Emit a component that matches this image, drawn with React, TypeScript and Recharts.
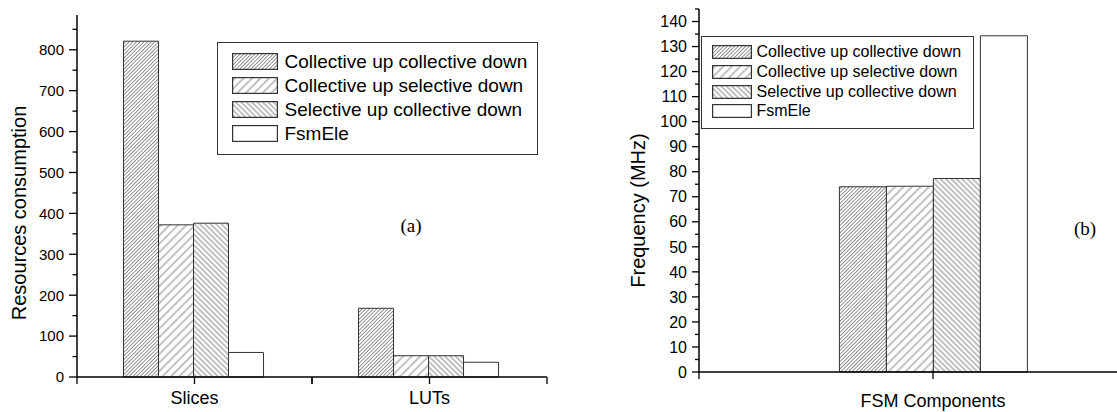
import { Bar, BarChart, Label, Legend, XAxis, YAxis } from "recharts";

const SANS = '"Liberation Sans", Arial, Helvetica, sans-serif';
const SERIF = '"Liberation Serif", "Times New Roman", serif';

// (a) resources
const CATEGORIES_A = ["Slices", "LUTs"];
const CUCD_A = [821, 168];
const CUSD_A = [372, 52];
const SUCD_A = [376, 52];
const FSMELE_A = [60, 36];
const TICKS_A = [0, 50, 100, 150, 200, 250, 300, 350, 400, 450, 500, 550, 600, 650, 700, 750, 800, 850];

// (b) frequency
const CATEGORIES_B = ["FSM Components"];
const CUCD_B = [74];
const CUSD_B = [74.2];
const SUCD_B = [77.3];
const FSMELE_B = [134.3];
const TICKS_B = [
  0, 5, 10, 15, 20, 25, 30, 35, 40, 45, 50, 55, 60, 65, 70, 75, 80, 85, 90, 95, 100, 105, 110, 115, 120, 125,
  130, 135, 140, 145,
];

const SERIES = [
  { key: "cucd", name: "Collective up collective down", fill: "url(#hatchDense)" },
  { key: "cusd", name: "Collective up selective down", fill: "url(#hatchWide)" },
  { key: "sucd", name: "Selective up collective down", fill: "url(#hatchBack)" },
  { key: "fsm", name: "FsmEle", fill: "#ffffff" },
];

const rowsA = CATEGORIES_A.map((name, i) => ({
  name,
  cucd: CUCD_A[i],
  cusd: CUSD_A[i],
  sucd: SUCD_A[i],
  fsm: FSMELE_A[i],
}));

const rowsB = CATEGORIES_B.map((name, i) => ({
  name,
  cucd: CUCD_B[i],
  cusd: CUSD_B[i],
  sucd: SUCD_B[i],
  fsm: FSMELE_B[i],
}));

const AXIS_LINE = { stroke: "#000", strokeWidth: 1.5 };

function Hatches() {
  return (
    <svg width={0} height={0} style={{ position: "absolute" }}>
      <defs>
        <pattern id="hatchDense" patternUnits="userSpaceOnUse" width={2.6} height={2.6} patternTransform="rotate(45)">
          <rect width={2.6} height={2.6} fill="#fff" />
          <line x1={1.3} y1={0} x2={1.3} y2={2.6} stroke="#777" strokeWidth={0.8} />
        </pattern>
        <pattern id="hatchWide" patternUnits="userSpaceOnUse" width={6} height={6} patternTransform="rotate(45)">
          <rect width={6} height={6} fill="#fff" />
          <line x1={3} y1={0} x2={3} y2={6} stroke="#666" strokeWidth={0.8} />
        </pattern>
        <pattern id="hatchBack" patternUnits="userSpaceOnUse" width={3.8} height={3.8} patternTransform="rotate(-45)">
          <rect width={3.8} height={3.8} fill="#fff" />
          <line x1={1.9} y1={0} x2={1.9} y2={3.8} stroke="#666" strokeWidth={0.8} />
        </pattern>
      </defs>
    </svg>
  );
}

function YTick(props: any) {
  const { x, y, payload, reach, step, majorLen, minorLen, fontSize } = props;
  const axisX = x + reach;
  const major = payload.value % step === 0;
  return (
    <g>
      <line x1={axisX - (major ? majorLen : minorLen)} x2={axisX} y1={y} y2={y} stroke="#000" strokeWidth={1.3} />
      {major && (
        <text x={x} y={y} dy="0.355em" textAnchor="end" fontSize={fontSize} fontFamily={SANS} fill="#000">
          {payload.value}
        </text>
      )}
    </g>
  );
}

function XTick(props: any) {
  const { x, y, payload, reach, len, fontSize } = props;
  const axisY = y - reach;
  const half = payload.offset ?? 0;
  const marks = half ? [x - half, x, x + half] : [x];
  return (
    <g>
      {marks.map((mx: number, i: number) => (
        <line key={i} x1={mx} x2={mx} y1={axisY} y2={axisY + len} stroke="#000" strokeWidth={1.3} />
      ))}
      <text x={x} y={y} dy="0.71em" textAnchor="middle" fontSize={fontSize} fontFamily={SANS} fill="#000">
        {payload.value}
      </text>
    </g>
  );
}

function AxisTitle({ viewBox, dx, dy, text, fontSize }: any) {
  const cx = viewBox.x + dx;
  const cy = viewBox.y + viewBox.height / 2 + dy;
  return (
    <text
      x={cx}
      y={cy}
      transform={`rotate(-90, ${cx}, ${cy})`}
      textAnchor="middle"
      dominantBaseline="central"
      fontSize={fontSize}
      fontFamily={SANS}
      fill="#000"
    >
      {text}
    </text>
  );
}

function HatchLegend({ payload, box }: any) {
  const order = SERIES.map((s) => s.name);
  const items = [...(payload ?? [])].sort((a: any, b: any) => order.indexOf(a.value) - order.indexOf(b.value));
  return (
    <div
      style={{
        boxSizing: "border-box",
        width: box.width,
        height: box.height,
        border: "1.5px solid #333",
        padding: `${box.padTop}px 0 0 ${box.padLeft}px`,
        background: "#fff",
        fontFamily: SANS,
        fontSize: box.fontSize,
        color: "#000",
      }}
    >
      {items.map((entry: any) => (
        <div key={entry.value} style={{ display: "flex", alignItems: "center", height: box.row }}>
          <svg width={box.sw} height={box.sh} style={{ display: "block", marginRight: box.gap, flex: "none" }}>
            <rect
              x={0.6}
              y={0.6}
              width={box.sw - 1.2}
              height={box.sh - 1.2}
              fill={entry.color}
              stroke="#333"
              strokeWidth={1.2}
            />
          </svg>
          <span style={{ lineHeight: 1, whiteSpace: "nowrap" }}>{entry.value}</span>
        </div>
      ))}
    </div>
  );
}

const LEGEND_A = { width: 321, height: 113, padTop: 6.5, padLeft: 13.5, row: 24, sw: 46, sh: 17, gap: 7, fontSize: 19 };
const LEGEND_B = { width: 273, height: 93, padTop: 5.7, padLeft: 9.5, row: 19.6, sw: 40, sh: 14, gap: 5, fontSize: 16 };

function bars() {
  return SERIES.map((s) => (
    <Bar
      key={s.key}
      dataKey={s.key}
      name={s.name}
      fill={s.fill}
      stroke="#333"
      strokeWidth={1}
      isAnimationActive={false}
    />
  ));
}

export default function App() {
  return (
    <div style={{ position: "absolute", left: 0, top: 0, width: 1117, height: 412, overflow: "hidden", background: "#fff" }}>
      <Hatches />
      <div style={{ position: "absolute", left: 0, top: 0 }}>
        <BarChart
          width={560}
          height={412}
          data={rowsA}
          margin={{ top: 15, right: 13, bottom: 0, left: 0 }}
          barGap={0}
          barCategoryGap="19.8%"
        >
          <XAxis
            dataKey="name"
            height={35}
            interval={0}
            tickSize={7}
            tickMargin={7}
            tickLine={false}
            axisLine={AXIS_LINE}
            tick={(p: any) => <XTick {...p} reach={14} len={7} fontSize={18} />}
          />
          <YAxis
            width={77}
            type="number"
            domain={[0, 885]}
            ticks={TICKS_A}
            interval={0}
            tickSize={8}
            tickMargin={5}
            tickLine={false}
            axisLine={AXIS_LINE}
            tick={(p: any) => <YTick {...p} reach={13} step={100} majorLen={8} minorLen={4.5} fontSize={15} />}
          >
            <Label
              content={(p: any) => <AxisTitle viewBox={p.viewBox} dx={18.5} dy={17} fontSize={20} text="Resources consumption" />}
            />
          </YAxis>
          <Legend
            layout="vertical"
            align="center"
            verticalAlign="middle"
            wrapperStyle={{ left: 217, top: 42 }}
            content={(p: any) => <HatchLegend payload={p.payload} box={LEGEND_A} />}
          />
          {bars()}
          <text x={411} y={225} textAnchor="middle" dominantBaseline="central" fontSize={19} fontFamily={SERIF} fill="#000">
            (a)
          </text>
        </BarChart>
      </div>

      <div style={{ position: "absolute", left: 560, top: 0, width: 557, height: 412, overflow: "hidden" }}>
        <BarChart
          width={617}
          height={412}
          data={rowsB}
          margin={{ top: 9, right: 10, bottom: 0, left: 0 }}
          barGap={0}
          barCategoryGap="30%"
        >
          <XAxis
            dataKey="name"
            height={40}
            interval={0}
            tickSize={7}
            tickMargin={15}
            tickLine={false}
            axisLine={AXIS_LINE}
            tick={(p: any) => <XTick {...p} reach={22} len={7} fontSize={18} />}
          />
          <YAxis
            width={139}
            type="number"
            domain={[0, 145]}
            ticks={TICKS_B}
            interval={0}
            tickSize={7}
            tickMargin={5}
            tickLine={false}
            axisLine={AXIS_LINE}
            tick={(p: any) => <YTick {...p} reach={12} step={10} majorLen={7} minorLen={4} fontSize={16} />}
          >
            <Label
              content={(p: any) => <AxisTitle viewBox={p.viewBox} dx={78} dy={20} fontSize={20} text="Frequency (MHz)" />}
            />
          </YAxis>
          <Legend
            layout="vertical"
            align="center"
            verticalAlign="middle"
            wrapperStyle={{ left: 141, top: 36 }}
            content={(p: any) => <HatchLegend payload={p.payload} box={LEGEND_B} />}
          />
          {bars()}
          <text x={525} y={228} textAnchor="middle" dominantBaseline="central" fontSize={19} fontFamily={SERIF} fill="#000">
            (b)
          </text>
        </BarChart>
      </div>
    </div>
  );
}
